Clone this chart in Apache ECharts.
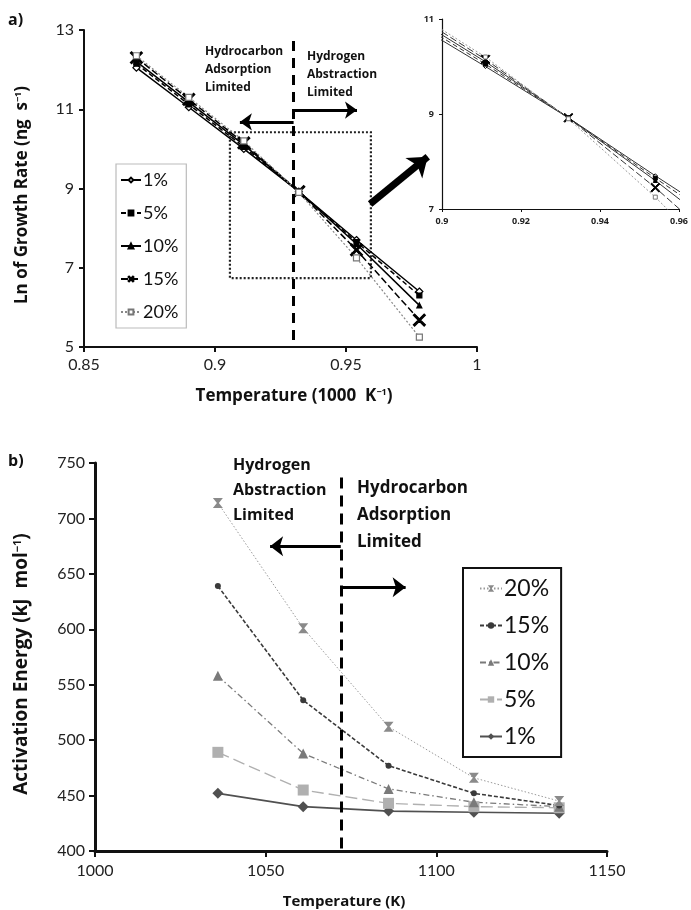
<!DOCTYPE html>
<html><head><meta charset="utf-8">
<script src="https://cdn.jsdelivr.net/npm/echarts@6/dist/echarts.min.js"></script>
<style>html,body{margin:0;padding:0;background:#fff}#c{width:691px;height:910px}</style>
</head><body><div id="c"></div>
<script>
// ---- Panel a data: ln of growth rate vs inverse temperature ----
const invTemp = [0.870, 0.890, 0.911, 0.932, 0.954, 0.978];
const lnRate1 = [12.05, 11.05, 10.00, 8.92, 7.70, 6.40];
const lnRate5 = [12.15, 11.12, 10.05, 8.92, 7.65, 6.30];
const lnRate10 = [12.20, 11.18, 10.10, 8.92, 7.60, 6.05];
const lnRate15 = [12.30, 11.25, 10.15, 8.92, 7.45, 5.68];
const lnRate20 = [12.35, 11.30, 10.20, 8.90, 7.25, 5.25];
const legendA = ['1%', '5%', '10%', '15%', '20%'];

// ---- Panel b data: activation energy vs temperature ----
const tempK = [1036, 1061, 1086, 1111, 1136];
const ea20 = [714, 601, 512, 466, 445];
const ea15 = [639, 536, 477, 452, 441];
const ea10 = [558, 488, 456, 444, 440];
const ea5 = [489, 455, 443, 440, 439];
const ea1 = [452, 440, 436, 435, 434];
const legendB = ['20%', '15%', '10%', '5%', '1%'];

const pair = (xs, ys) => xs.map((x, i) => [x, ys[i]]);
const XPATH = 'path://M0,1L1,0L5,4L9,0L10,1L6,5L10,9L9,10L5,6L1,10L0,9L4,5Z';
const HOURGLASS = 'path://M0,0L10,0L6,5L10,10L0,10L4,5Z';
const FONT = 'Lato';

const styleA = {
  '1%': {sym: 'diamond', size: 7, fill: '#fff', stroke: '#000', line: '#000', type: 'solid', w: 1.5},
  '5%': {sym: 'rect', size: 5, fill: '#000', stroke: '#000', line: '#000', type: [5, 3], w: 1.5},
  '10%': {sym: 'triangle', size: 5, fill: '#000', stroke: '#000', line: '#000', type: 'solid', w: 1.5},
  '15%': {sym: XPATH, size: 12, fill: '#000', stroke: '#000', line: '#000', type: [7, 3], w: 1.5},
  '20%': {sym: 'rect', size: 6, fill: '#fff', stroke: '#777', line: '#888', type: [2, 2], w: 1.2}
};
const valsA = {'1%': lnRate1, '5%': lnRate5, '10%': lnRate10, '15%': lnRate15, '20%': lnRate20};

const series = [];
legendA.forEach(n => {
  const s = styleA[n];
  series.push({
    name: n, type: 'line', xAxisIndex: 0, yAxisIndex: 0,
    data: pair(invTemp, valsA[n]), symbol: s.sym, symbolSize: s.size, showAllSymbol: true,
    lineStyle: {color: s.line, type: s.type, width: s.w},
    itemStyle: {color: s.fill, borderColor: s.stroke, borderWidth: 1.2},
    animation: false, z: 3
  });
});
// inset series
legendA.forEach(n => {
  const s = styleA[n];
  series.push({
    name: 'inset' + n, type: 'line', xAxisIndex: 1, yAxisIndex: 1,
    data: pair(invTemp, valsA[n]), symbol: s.sym, symbolSize: Math.max(4, s.size - 3),
    lineStyle: {color: n === '20%' ? '#999' : '#333', type: s.type, width: 1},
    itemStyle: {color: s.fill, borderColor: s.stroke, borderWidth: 1},
    animation: false, clip: true
  });
});

const styleB = {
  b20: {sym: HOURGLASS, size: 10, color: '#8a8a8a', line: '#9a9a9a', type: [1.5, 2], w: 1},
  b15: {sym: 'circle', size: 6, color: '#3a3a3a', line: '#3a3a3a', type: [4, 2], w: 1.6},
  b10: {sym: 'triangle', size: 10, color: '#7a7a7a', line: '#7a7a7a', type: [6, 3, 1.5, 3], w: 1.3},
  b5: {sym: 'rect', size: 11, color: '#b0b0b0', line: '#b0b0b0', type: [12, 5], w: 1.4},
  b1: {sym: 'diamond', size: 11, color: '#505050', line: '#505050', type: 'solid', w: 1.6}
};
const valsB = {b20: ea20, b15: ea15, b10: ea10, b5: ea5, b1: ea1};
const namesB = {b20: '20%', b15: '15%', b10: '10%', b5: '5%', b1: '1%'};
['b1', 'b5', 'b10', 'b15', 'b20'].forEach(k => {
  const s = styleB[k];
  series.push({
    name: k, type: 'line', xAxisIndex: 2, yAxisIndex: 2,
    data: pair(tempK, valsB[k]), symbol: s.sym, symbolSize: s.size,
    lineStyle: {color: s.line, type: s.type, width: s.w},
    itemStyle: {color: s.color},
    animation: false, z: 3
  });
});

// annotations in panel a
series.push({
  name: 'annA', type: 'line', xAxisIndex: 0, yAxisIndex: 0, data: [], silent: true, animation: false,
  markLine: {
    silent: true, animation: false, symbol: ['none', 'arrow'], label: {show: false},
    emphasis: {disabled: true},
    data: [
      [{coord: [0.93, 12.72], symbol: 'none'}, {coord: [0.93, 5], symbol: 'none', lineStyle: {color: '#000', width: 3, type: [10, 7]}}],
      [{coord: [0.93, 10.68]}, {coord: [0.9095, 10.68], symbolSize: [13, 12], lineStyle: {color: '#000', width: 3, type: 'solid'}}],
      [{coord: [0.93, 10.98]}, {coord: [0.9542, 10.98], symbolSize: [13, 12], lineStyle: {color: '#000', width: 3, type: 'solid'}}],
      [{coord: [0.9592, 8.61]}, {coord: [0.9812, 9.80], symbolSize: [20, 18], lineStyle: {color: '#000', width: 7, type: 'solid'}}]
    ]
  },
  markArea: {
    silent: true, label: {show: false},
    itemStyle: {color: 'rgba(0,0,0,0)', borderColor: '#222', borderWidth: 2.2, borderType: [2, 2]},
    data: [[{coord: [0.9057, 10.42]}, {coord: [0.9595, 6.74]}]]
  }
});
// annotations in panel b
series.push({
  name: 'annB', type: 'line', xAxisIndex: 2, yAxisIndex: 2, data: [], silent: true, animation: false,
  markLine: {
    silent: true, animation: false, symbol: ['none', 'arrow'], label: {show: false},
    emphasis: {disabled: true},
    data: [
      [{coord: [1072, 737], symbol: 'none'}, {coord: [1072, 400], symbol: 'none', lineStyle: {color: '#000', width: 3, type: [11, 7]}}],
      [{coord: [1072, 675]}, {coord: [1051.3, 675], symbolSize: [15, 13], lineStyle: {color: '#000', width: 3, type: 'solid'}}],
      [{coord: [1071.8, 638]}, {coord: [1091, 638], symbolSize: [15, 13], lineStyle: {color: '#000', width: 3, type: 'solid'}}]
    ]
  }
});

const axisCommon = (w) => ({
  axisLine: {lineStyle: {color: '#111', width: w}},
  axisTick: {length: 5, lineStyle: {color: '#111', width: w}},
  splitLine: {show: false}
});
const plain = v => String(v);

const option = {
  backgroundColor: '#fff',
  textStyle: {fontFamily: FONT},
  animation: false,
  grid: [
    {left: 84, top: 30, width: 393, height: 317},
    {left: 442, top: 19, width: 240, height: 190},
    {left: 95, top: 463, width: 512, height: 388}
  ],
  xAxis: [
    Object.assign({gridIndex: 0, type: 'value', min: 0.85, max: 1, interval: 0.05,
      axisLabel: {fontSize: 16, color: '#222', margin: 10, fontFamily: FONT}}, axisCommon(2)),
    Object.assign({gridIndex: 1, type: 'value', min: 0.9, max: 0.96, interval: 0.02,
      axisLabel: {fontSize: 9, fontWeight: 'bold', color: '#222', margin: 8, fontFamily: 'Open Sans'}}, axisCommon(1.2), {axisTick: {length: 3}}),
    Object.assign({gridIndex: 2, type: 'value', min: 1000, max: 1150, interval: 50,
      axisLabel: {fontSize: 16, color: '#222', margin: 12, fontFamily: FONT, formatter: plain}}, axisCommon(3), {axisTick: {length: 6, lineStyle: {width: 2, color: '#111'}}})
  ],
  yAxis: [
    Object.assign({gridIndex: 0, type: 'value', min: 5, max: 13, interval: 2,
      axisLabel: {fontSize: 16, color: '#222', margin: 10, fontFamily: FONT}}, axisCommon(2)),
    Object.assign({gridIndex: 1, type: 'value', min: 7, max: 11, interval: 2,
      axisLabel: {fontSize: 9, fontWeight: 'bold', color: '#222', margin: 8, fontFamily: 'Open Sans'}}, axisCommon(1.2), {axisTick: {length: 3}}),
    Object.assign({gridIndex: 2, type: 'value', min: 400, max: 750, interval: 50,
      axisLabel: {fontSize: 16, color: '#222', margin: 10, fontFamily: FONT, formatter: plain}}, axisCommon(3), {axisTick: {length: 6, lineStyle: {width: 2, color: '#111'}}})
  ],
  legend: [
    {
      data: legendA, orient: 'vertical', left: 116, top: 164, itemWidth: 20, itemHeight: 6, itemGap: 15,
      padding: [7, 8, 7, 4], backgroundColor: '#fff', borderColor: '#bbb', borderWidth: 1.2,
      textStyle: {fontSize: 18, color: '#111', fontFamily: FONT, padding: [0, 0, 0, -3]},
      selectedMode: false
    },
    {
      data: ['b20', 'b15', 'b10', 'b5', 'b1'], orient: 'vertical', left: 463, top: 568, itemWidth: 22, itemHeight: 8,
      itemGap: 14, padding: [9, 12, 9, 16], backgroundColor: '#fff', borderColor: '#111', borderWidth: 2,
      formatter: n => namesB[n],
      textStyle: {fontSize: 23, color: '#111', fontFamily: FONT, padding: [0, 0, 0, -3]},
      selectedMode: false
    }
  ],
  graphic: [
    {type: 'text', x: 8, y: 12, style: {text: 'a)', font: 'bold 16px "Open Sans"', fill: '#111'}},
    {type: 'text', x: 205, y: 43, style: {text: 'Hydrocarbon\nAdsorption\nLimited', font: 'bold 12px "Open Sans"', fill: '#111', lineHeight: 18}},
    {type: 'text', x: 307, y: 48, style: {text: 'Hydrogen\nAbstraction\nLimited', font: 'bold 12px "Open Sans"', fill: '#111', lineHeight: 18}},
    {type: 'text', x: 22, y: 195, rotation: Math.PI / 2,
      style: {text: '{t|Ln of Growth Rate (ng  s}{s|−1}{t|)}', align: 'center', verticalAlign: 'middle',
        rich: {t: {font: 'bold 17px "Open Sans"', fill: '#111'}, s: {font: 'bold 9px "Open Sans"', fill: '#111', verticalAlign: 'top'}}}},
    {type: 'text', x: 294, y: 396,
      style: {text: '{t|Temperature (1000  K}{s|−1}{t|)}', align: 'center', verticalAlign: 'middle',
        rich: {t: {font: 'bold 17px "Open Sans"', fill: '#111'}, s: {font: 'bold 9px "Open Sans"', fill: '#111', verticalAlign: 'top'}}}},
    {type: 'text', x: 8, y: 453, style: {text: 'b)', font: 'bold 16px "Open Sans"', fill: '#111'}},
    {type: 'text', x: 233, y: 453, style: {text: 'Hydrogen\nAbstraction\nLimited', font: 'bold 16px "Open Sans"', fill: '#111', lineHeight: 25}},
    {type: 'text', x: 357, y: 475, style: {text: 'Hydrocarbon\nAdsorption\nLimited', font: 'bold 17px "Open Sans"', fill: '#111', lineHeight: 27}},
    {type: 'text', x: 22, y: 664, rotation: Math.PI / 2,
      style: {text: '{t|Activation Energy (kJ  mol}{s|−1}{t|)}', align: 'center', verticalAlign: 'middle',
        rich: {t: {font: 'bold 19px "Open Sans"', fill: '#111'}, s: {font: 'bold 11px "Open Sans"', fill: '#111', verticalAlign: 'top'}}}},
    {type: 'text', x: 344, y: 902,
      style: {text: 'Temperature (K)', align: 'center', verticalAlign: 'middle', font: 'bold 15px "Open Sans"', fill: '#111'}}
  ],
  series: series
};

const chart = echarts.init(document.getElementById('c'), null, {renderer: 'canvas'});
chart.setOption(option);
</script>
</body></html>
